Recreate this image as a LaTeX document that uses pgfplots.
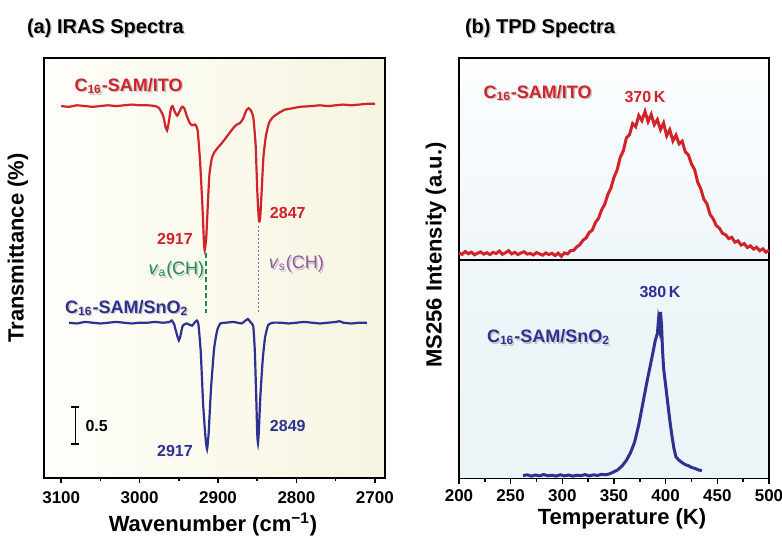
\documentclass[border=0pt]{standalone}
\usepackage{pgfplots}
\pgfplotsset{compat=1.18}
\usepackage{fontspec}
\setmainfont{Liberation Sans}

\definecolor{ired}{HTML}{D2232A}
\definecolor{iblue}{HTML}{2E3192}
\definecolor{igreen}{HTML}{1E8C4E}
\definecolor{ipurple}{HTML}{9457A8}
\definecolor{bgaL}{HTML}{FFFEFA}
\definecolor{bgaR}{HTML}{F6F5E0}
\definecolor{bgb1}{HTML}{FCFEFF}
\definecolor{bgb2}{HTML}{EFF6F9}
\definecolor{bgb3}{HTML}{EBF4F7}

% text with a light grey drop shadow
\newcommand\shtext[3]{%
  \node[#1,text=gray!45,xshift=0.7pt,yshift=-0.7pt] at #2 {#3};
  \node[#1] at #2 {#3};}

\pgfplotsset{
  panel/.style={
    scale only axis,
    axis line style={line width=0.8pt},
    every tick/.style={black, line width=0.8pt},
    tick align=outside, xtick pos=bottom, ytick=\empty,
    major tick length=2.5pt, minor tick length=1.5pt,
    minor x tick num=1,
    /pgf/number format/assume math mode=true,
    /pgf/number format/1000 sep={},
    ticklabel style={font=\fontsize{8.5}{10}\selectfont\bfseries, inner sep=1pt},
    clip=false,
  },
}

\begin{document}
\begin{tikzpicture}

% ---------------- (a) IRAS ----------------
\begin{axis}[panel, anchor=south west, at={(22pt,29pt)}, width=170.5pt, height=210pt,
    x dir=reverse, xmin=2687, xmax=3122, ymin=0, ymax=5.68,
    xtick={2700,2800,...,3100},
    xticklabel style={yshift=-3pt},
    axis background/.style={left color=bgaL, right color=bgaR},
  ]
  \addplot[ired, line width=1.1pt, smooth, tension=0.3] coordinates {
    (3100,5.03) (3090,5.02) (3080,5.04) (3070,5.03) (3060,5.02) (3050,5.03)
    (3040,5.04) (3030,5.03) (3020,5.04) (3010,5.05) (3000,5.04) (2990,5.04)
    (2980,5.03) (2975,5.00) (2970,4.90) (2967,4.75) (2965,4.70) (2963,4.80)
    (2960,5.00) (2958,5.03) (2955,4.95) (2952,4.90) (2949,4.96) (2946,5.02)
    (2943,5.00) (2940,4.90) (2936,4.80) (2933,4.77) (2929,4.78) (2926,4.70)
    (2923,4.30) (2920,3.70) (2918,3.20) (2917,3.08) (2915,3.25) (2913,3.70)
    (2911,4.10) (2908,4.32) (2905,4.40) (2900,4.47) (2895,4.53) (2890,4.60)
    (2885,4.67) (2880,4.74) (2876,4.78) (2872,4.80) (2868,4.86) (2864,4.97)
    (2861,5.00) (2858,4.97) (2855,4.88) (2852,4.50) (2850,3.90) (2848,3.50)
    (2847,3.47) (2846,3.55) (2844,3.95) (2842,4.35) (2839,4.62) (2835,4.80)
    (2830,4.88) (2822,4.94) (2815,4.98) (2805,5.00) (2795,5.02) (2780,5.03)
    (2770,5.04) (2760,5.03) (2750,5.04) (2740,5.05) (2730,5.04) (2720,5.05)
    (2710,5.06) (2700,5.06)
  };
  \addplot[iblue, line width=1.1pt, smooth, tension=0.3] coordinates {
    (3090,2.10) (3080,2.09) (3070,2.11) (3060,2.10) (3050,2.09) (3040,2.10)
    (3030,2.11) (3020,2.10) (3010,2.09) (3000,2.10) (2990,2.10) (2980,2.11)
    (2970,2.10) (2962,2.11) (2959,2.13) (2956,2.08) (2953,1.96) (2950,1.86)
    (2948,1.92) (2945,2.06) (2940,2.09) (2936,2.07) (2933,2.06) (2930,2.10)
    (2927,2.13) (2925,2.08) (2922,1.70) (2919,1.00) (2916,0.55) (2914,0.39)
    (2912,0.60) (2909,1.20) (2905,1.75) (2901,2.00) (2897,2.09) (2890,2.10)
    (2880,2.11) (2870,2.09) (2866,2.12) (2862,2.15) (2858,2.10) (2855,2.05)
    (2853,1.70) (2851,1.00) (2850,0.60) (2849,0.47) (2848,0.62) (2846,1.10)
    (2843,1.60) (2840,1.90) (2836,2.07) (2830,2.10) (2820,2.10) (2810,2.09)
    (2800,2.10) (2790,2.11) (2780,2.10) (2770,2.09) (2760,2.10) (2750,2.11)
    (2745,2.12) (2740,2.10) (2730,2.09) (2720,2.10) (2710,2.10)
  };
  \draw[igreen, line width=0.9pt, dash pattern=on 2.5pt off 1.5pt] (axis cs:2915,3.04) -- (axis cs:2915,2.23);
  \draw[ipurple, line width=0.4pt, dash pattern=on 1pt off 1pt] (axis cs:2848,3.41) -- (axis cs:2848,2.23);
  \draw[line width=0.8pt] (axis cs:3082,0.46) -- (axis cs:3082,0.96)
    (axis cs:3087,0.96) -- (axis cs:3077,0.96) (axis cs:3087,0.46) -- (axis cs:3077,0.46);
  \node[anchor=west, font=\fontsize{8}{10}\selectfont\bfseries] at (axis cs:3078,0.70) {0.5};
  \shtext{anchor=west,text=ired,font=\fontsize{9}{11}\selectfont\bfseries}{(axis cs:3092,5.30)}{C\textsubscript{16}-SAM/ITO}
  \shtext{anchor=west,text=iblue,font=\fontsize{9}{11}\selectfont\bfseries}{(axis cs:3104,2.30)}{C\textsubscript{16}-SAM/SnO\textsubscript{2}}
  \node[text=ired, font=\fontsize{8}{10}\selectfont\bfseries] at (axis cs:2955,3.23) {2917};
  \node[text=ired, font=\fontsize{8}{10}\selectfont\bfseries] at (axis cs:2811,3.59) {2847};
  \node[text=iblue, font=\fontsize{8}{10}\selectfont\bfseries] at (axis cs:2955,0.365) {2917};
  \node[text=iblue, font=\fontsize{8}{10}\selectfont\bfseries] at (axis cs:2811,0.70) {2849};
  \shtext{text=igreen,font=\fontsize{9}{11}\selectfont}{(axis cs:2953,2.81)}{\textit{v}\textsubscript{a}(CH)}
  \shtext{text=ipurple,font=\fontsize{9}{11}\selectfont}{(axis cs:2800,2.89)}{\textit{v}\textsubscript{s}(CH)}
\end{axis}

% ---------------- (b) TPD upper ----------------
\begin{axis}[panel, anchor=south west, at={(229.5pt,138pt)}, width=155pt, height=101pt,
    xmin=200, xmax=500, ymin=0, ymax=100,
    xtick={200,250,...,500}, xticklabels={},
    axis background/.style={top color=bgb1, bottom color=bgb2},
  ]
  \addplot[ired, line width=1.5pt] coordinates {
    (200,3.5) (203,2.8) (206,4.2) (209,3.1) (212,3.9) (215,2.6) (218,3.4)
    (221,4.0) (224,2.9) (227,3.6) (230,2.7) (233,3.8) (236,3.2) (239,4.4)
    (242,2.8) (245,3.6) (248,4.6) (251,3.0) (254,3.8) (257,2.7) (260,3.5)
    (263,4.1) (266,2.9) (269,3.3) (272,2.5) (275,3.7) (278,3.0) (281,2.4)
    (284,3.5) (287,2.7) (290,3.3) (293,2.2) (296,3.4) (299,1.8) (302,3.5)
    (305,3.0) (308,4.6) (311,4.8) (314,6.5) (317,7.6) (320,9.8) (323,10.9)
    (326,13.6) (329,14.8) (332,18.5) (335,20.6) (338,24.8) (341,27.5)
    (344,32.4) (347,35.6) (350,41.0) (353,44.5) (356,50.8) (359,54.0)
    (362,60.5) (365,62.0) (368,67.5) (371,66.0) (374,71.5) (377,69.0)
    (380,73.5) (383,68.5) (386,72.0) (389,67.0) (392,69.5) (395,64.5)
    (398,67.8) (401,61.5) (404,64.5) (407,59.0) (410,61.8) (413,57.5)
    (416,58.8) (419,53.5) (422,52.0) (425,47.5) (428,44.8) (431,38.5)
    (434,35.2) (437,30.0) (440,27.8) (443,22.5) (446,20.4) (449,17.0)
    (452,15.8) (455,13.2) (458,12.5) (461,10.6) (464,11.2) (467,8.8)
    (470,9.5) (473,7.4) (476,8.1) (479,6.2) (482,7.0) (485,5.4) (488,6.3)
    (491,4.6) (494,5.5) (497,3.9) (500,4.8)
  };
  \shtext{anchor=west,text=ired,font=\fontsize{9}{11}\selectfont\bfseries}{(axis cs:217,82.7)}{C\textsubscript{16}-SAM/ITO}
  \node[text=ired, font=\fontsize{8}{10}\selectfont\bfseries] at (axis cs:380,80.7) {370\,K};
\end{axis}

% ---------------- (b) TPD lower ----------------
\begin{axis}[panel, anchor=south west, at={(229.5pt,28.65pt)}, width=155pt, height=109.35pt,
    xmin=200, xmax=500, ymin=-1, ymax=100,
    xtick={200,250,...,500},
    xticklabel style={yshift=-2pt},
    axis background/.style={top color=bgb2, bottom color=bgb3},
  ]
  \addplot[iblue, line width=1.5pt] coordinates {
    (262,0.4) (266,0.8) (270,0.2) (274,0.7) (278,0.3) (282,0.9) (286,0.4)
    (290,0.6) (294,0.2) (298,0.8) (302,0.3) (306,0.7) (310,0.2) (314,0.6)
    (318,0.4) (322,0.9) (326,0.3) (330,0.8) (334,0.5) (338,1.0) (342,0.8)
    (346,1.3) (350,2.2) (354,3.2) (358,5.0) (362,7.5) (366,11.0) (370,16.0)
    (374,24.0) (378,34.0) (382,44.0) (385,51.0) (388,58.0) (390,63.0)
    (392,66.0) (393,72.0) (394,69.0) (395,76.0) (396,70.0) (397,58.0)
    (398,50.0) (400,42.0) (402,34.0) (404,26.0) (406,19.0) (408,13.0)
    (410,9.0) (413,7.5) (416,6.4) (419,5.5) (422,5.0) (425,4.2) (428,3.8)
    (431,3.2) (435,2.6)
  };
  \node[text=iblue, font=\fontsize{8}{10}\selectfont\bfseries] at (axis cs:394.5,85) {380\,K};
  \shtext{anchor=west,text=iblue,font=\fontsize{9}{11}\selectfont\bfseries}{(axis cs:220.3,64.3)}{C\textsubscript{16}-SAM/SnO\textsubscript{2}}
\end{axis}

% titles and axis labels
\shtext{anchor=west,font=\fontsize{10}{12}\selectfont\bfseries}{(10pt,254pt)}{(a) IRAS Spectra}
\shtext{anchor=west,font=\fontsize{10}{12}\selectfont\bfseries}{(229pt,254pt)}{(b) TPD Spectra}
\node[inner sep=1pt,font=\fontsize{11}{13}\selectfont\bfseries] at (106.5pt,5.8pt) {Wavenumber (cm\textsuperscript{−1})};
\node[inner sep=1pt,font=\fontsize{11}{13}\selectfont\bfseries] at (311pt,8.5pt) {Temperature (K)};
\node[rotate=90,font=\fontsize{11}{13}\selectfont\bfseries] at (9pt,144pt) {Transmittance (\%)};
\node[rotate=90,font=\fontsize{11}{13}\selectfont\bfseries] at (218pt,140.5pt) {MS256 Intensity (a.u.)};

\pgfresetboundingbox
\useasboundingbox (0pt,0pt) rectangle (391pt,268pt);
\end{tikzpicture}
\end{document}
